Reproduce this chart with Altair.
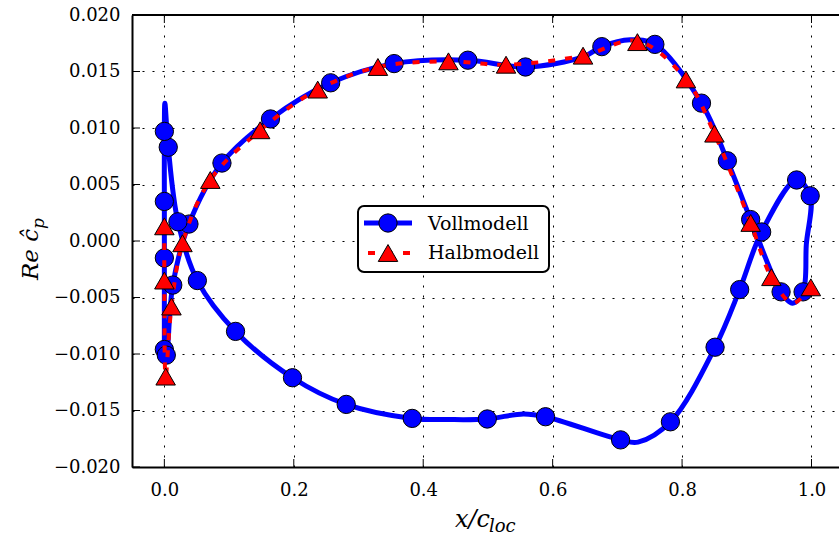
import altair as alt
import pandas as pd

# ---------------- data ----------------
# Vollmodell: smooth curve vertices (closed loop around the profile)
vm_x = [0.000, 0.003, 0.013, 0.038, 0.089, 0.164, 0.257, 0.355, 0.469, 0.558,
        0.647, 0.676, 0.720, 0.758, 0.830, 0.870, 0.906, 0.953, 0.971, 0.987,
        0.992, 0.998, 0.977, 0.923, 0.889, 0.851, 0.782, 0.732, 0.705, 0.589, 0.555,
        0.499, 0.440, 0.383, 0.281, 0.198, 0.110, 0.051, 0.021, 0.006, 0.0008,
        0.000, 0.000, 0.000, 0.000]
vm_y = [-0.0096, -0.0101, -0.0039, 0.0015, 0.0069, 0.0108, 0.0140, 0.0157, 0.0160, 0.0154,
        0.0163, 0.0172, 0.0178, 0.0174, 0.0122, 0.0071, 0.0019, -0.0045, -0.0055, -0.0045,
        -0.0003, 0.0040, 0.0054, 0.0008, -0.0043, -0.0094, -0.0160, -0.0178, -0.0176, -0.01555, -0.0153,
        -0.01575, -0.0158, -0.0157, -0.01446, -0.0121, -0.0080, -0.0035, 0.0017, 0.0083, 0.0122,
        0.0097, 0.0035, -0.0015, -0.0096]
# Vollmodell: marker positions
vm_mx = [0.000, 0.003, 0.013, 0.038, 0.089, 0.164, 0.257, 0.355, 0.469, 0.558,
         0.676, 0.758, 0.830, 0.870, 0.906, 0.953, 0.987, 0.998, 0.977, 0.923,
         0.889, 0.851, 0.782, 0.705, 0.589, 0.499, 0.383, 0.281, 0.198, 0.110,
         0.051, 0.021, 0.006, 0.000, 0.000, 0.000]
vm_my = [-0.0096, -0.0101, -0.0039, 0.0015, 0.0069, 0.0108, 0.0140, 0.0157, 0.0160, 0.0154,
         0.0172, 0.0174, 0.0122, 0.0071, 0.0019, -0.0045, -0.0045, 0.0040, 0.0054, 0.0008,
         -0.0043, -0.0094, -0.0160, -0.0176, -0.01555, -0.01575, -0.0157, -0.01446, -0.0121, -0.0080,
         -0.0035, 0.0017, 0.0083, 0.0097, 0.0035, -0.0015]

# Halbmodell: curve vertices
hm_x = [0.000, 0.000, 0.002, 0.011, 0.028, 0.071, 0.148, 0.237, 0.330, 0.439,
        0.528, 0.647, 0.731, 0.806, 0.850, 0.906, 0.938, 0.971, 0.999]
hm_y = [0.0013, -0.0035, -0.0120, -0.0058, -0.0002, 0.0054, 0.0098, 0.0134, 0.0154, 0.0159,
        0.0156, 0.0164, 0.0177, 0.0143, 0.0095, 0.0016, -0.0032, -0.0055, -0.0041]
# Halbmodell: marker positions
hm_mx = [0.000, 0.000, 0.002, 0.011, 0.028, 0.071, 0.148, 0.237, 0.330, 0.439,
         0.528, 0.647, 0.731, 0.806, 0.850, 0.906, 0.938, 0.999]
hm_my = [0.0013, -0.0035, -0.0120, -0.0058, -0.0002, 0.0054, 0.0098, 0.0134, 0.0154, 0.0159,
         0.0156, 0.0164, 0.0176, 0.0143, 0.0095, 0.0016, -0.0032, -0.0041]

x_ticks = [0.0, 0.2, 0.4, 0.6, 0.8, 1.0]
y_ticks = [-0.020, -0.015, -0.010, -0.005, 0.000, 0.005, 0.010, 0.015, 0.020]
legend_labels = ["Vollmodell", "Halbmodell"]

# ---------------- chart ----------------
W, H = 707, 452
FONT = "DejaVu Serif"
BLUE, RED = "#0000ff", "#ff0000"

xs = alt.Scale(domain=[-0.05, 1.0425], nice=False, zero=False)
ys = alt.Scale(domain=[-0.02, 0.02], nice=False, zero=False)

ax_x = alt.Axis(values=x_ticks, format=".1f", grid=True, ticks=False, tickSize=0,
                labelPadding=14, domainColor="black", domainWidth=2, title=None,
                gridDash=[2, 8], gridColor="black", gridWidth=1, gridOpacity=1,
                labelFont=FONT, labelFontSize=18, labelColor="black")
ax_y = alt.Axis(values=y_ticks, format=".3f", grid=True, ticks=False, tickSize=0,
                labelPadding=12, domainColor="black", domainWidth=2, title=None,
                gridDash=[2, 8], gridColor="black", gridWidth=1, gridOpacity=1,
                labelFont=FONT, labelFontSize=18, labelColor="black")


def X(f):
    return alt.X(f, scale=xs, axis=ax_x)


def Y(f):
    return alt.Y(f, scale=ys, axis=ax_y)


vm_df = pd.DataFrame({"x": vm_x, "y": vm_y, "i": list(range(len(vm_x)))})
vm_m = pd.DataFrame({"x": vm_mx, "y": vm_my})
hm_df = pd.DataFrame({"x": hm_x, "y": hm_y, "i": list(range(len(hm_x)))})
hm_m = pd.DataFrame({"x": hm_mx, "y": hm_my})
one = pd.DataFrame({"a": [0]})
xt = pd.DataFrame({"x": x_ticks})
yt = pd.DataFrame({"y": y_ticks})

blue_line = alt.Chart(vm_df).mark_line(color=BLUE, strokeWidth=5, interpolate="catmull-rom").encode(
    x=X("x:Q"), y=Y("y:Q"), order="i:Q")
blue_pts = alt.Chart(vm_m).mark_point(shape="circle", filled=True, color=BLUE, stroke="black",
                                      strokeWidth=1, size=335, opacity=1).encode(
    x=X("x:Q"), y=Y("y:Q"))
red_line = alt.Chart(hm_df).mark_line(color=RED, strokeWidth=4, strokeDash=[7, 10],
                                      interpolate="catmull-rom").encode(
    x=X("x:Q"), y=Y("y:Q"), order="i:Q")
red_pts = alt.Chart(hm_m).mark_point(shape="triangle-up", filled=True, color=RED, stroke="black",
                                     strokeWidth=1, size=380, opacity=1).encode(
    x=X("x:Q"), y=Y("y:Q"))

# frame: top spine and inward ticks
top_spine = alt.Chart(one).mark_rule(color="black", strokeWidth=2).encode(
    x=alt.value(0), x2=alt.value(W), y=alt.value(0))
ytick = alt.Chart(yt).mark_rule(color="black", strokeWidth=1).encode(
    y=Y("y:Q"), x=alt.value(0), x2=alt.value(8))
xtick_b = alt.Chart(xt).mark_rule(color="black", strokeWidth=1).encode(
    x=X("x:Q"), y=alt.value(H), y2=alt.value(H - 8))
xtick_t = alt.Chart(xt).mark_rule(color="black", strokeWidth=1).encode(
    x=X("x:Q"), y=alt.value(0), y2=alt.value(8))

# legend (drawn by hand to get line + marker symbols)
leg_box = alt.Chart(one).mark_rect(fill="white", stroke="black", strokeWidth=2, cornerRadius=6).encode(
    x=alt.value(226), x2=alt.value(417), y=alt.value(191), y2=alt.value(257))
leg_l1 = alt.Chart(one).mark_rule(color=BLUE, strokeWidth=5).encode(
    x=alt.value(232), x2=alt.value(280), y=alt.value(208))
leg_p1 = alt.Chart(one).mark_point(shape="circle", filled=True, color=BLUE, stroke="black",
                                   strokeWidth=1, size=335, opacity=1).encode(
    x=alt.value(256), y=alt.value(208))
leg_l2 = alt.Chart(one).mark_rule(color=RED, strokeWidth=4, strokeDash=[7, 10.5]).encode(
    x=alt.value(236), x2=alt.value(280), y=alt.value(238))
leg_p2 = alt.Chart(one).mark_point(shape="triangle-up", filled=True, color=RED, stroke="black",
                                   strokeWidth=1, size=380, opacity=1).encode(
    x=alt.value(256), y=alt.value(238))
leg_t1 = alt.Chart(one).mark_text(text=legend_labels[0], align="left", baseline="alphabetic",
                                  font=FONT, fontSize=19, color="black").encode(
    x=alt.value(296), y=alt.value(215))
leg_t2 = alt.Chart(one).mark_text(text=legend_labels[1], align="left", baseline="alphabetic",
                                  font=FONT, fontSize=19, color="black").encode(
    x=alt.value(296), y=alt.value(244))

# axis titles (with subscripts)
yt1 = alt.Chart(one).mark_text(text="Re ĉ", angle=270, align="left", baseline="alphabetic",
                               font=FONT, fontStyle="italic", fontSize=23, color="black").encode(
    x=alt.value(-94), y=alt.value(265))
yt2 = alt.Chart(one).mark_text(text="p", angle=270, align="left", baseline="alphabetic",
                               font=FONT, fontStyle="italic", fontSize=17, color="black").encode(
    x=alt.value(-88), y=alt.value(214))
xt1 = alt.Chart(one).mark_text(text="x/c", align="left", baseline="alphabetic",
                               font=FONT, fontStyle="italic", fontSize=24, color="black").encode(
    x=alt.value(323), y=alt.value(512))
xt2 = alt.Chart(one).mark_text(text="loc", align="left", baseline="alphabetic",
                               font=FONT, fontStyle="italic", fontSize=18, color="black").encode(
    x=alt.value(357), y=alt.value(517))

chart = alt.layer(
    blue_line, blue_pts, red_line, red_pts,
    top_spine, ytick, xtick_b, xtick_t,
    leg_box, leg_l1, leg_p1, leg_l2, leg_p2, leg_t1, leg_t2,
    yt1, yt2, xt1, xt2,
).properties(
    width=W, height=H,
    autosize=alt.AutoSizeParams(type="none"),
    padding={"left": 132, "top": 15, "right": 0, "bottom": 75},
    background="white",
).configure_view(stroke=None)

chart.save("out.html", embed_options={"renderer": "svg", "actions": False})
